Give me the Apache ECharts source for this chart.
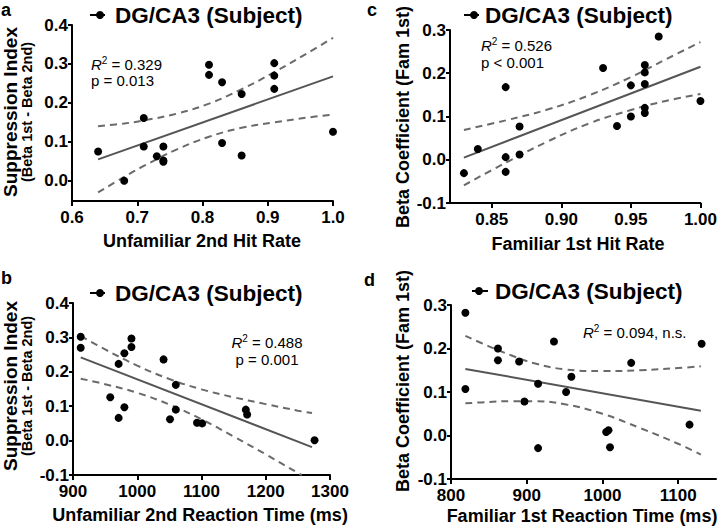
<!DOCTYPE html>
<html>
<head>
<meta charset="utf-8">
<script src="https://cdn.jsdelivr.net/npm/echarts@6/dist/echarts.min.js"></script>
<style>html,body{margin:0;padding:0;background:#fff}#c{width:720px;height:528px}</style>
</head>
<body>
<div id="c"></div>
<script>
// ---------- Panel a: Unfamiliar 2nd Hit Rate vs Suppression Index ----------
const aHit  = [0.64,0.68,0.71,0.71,0.73,0.74,0.74,0.74,0.81,0.81,0.83,0.83,0.86,0.86,0.91,0.91,0.91,1.00];
const aSupp = [0.075,0.000,0.161,0.088,0.063,0.088,0.052,0.049,0.298,0.272,0.253,0.097,0.223,0.065,0.302,0.270,0.236,0.126];
const aFitX = [0.64, 1.00];
const aFitY = [0.055, 0.268];
const aBandX = [0.64,0.68,0.71,0.76,0.81,0.86,0.91,0.96,1.00];
const aUpper = [0.140,0.147,0.155,0.172,0.198,0.235,0.279,0.327,0.367];
const aLower = [-0.030,0.010,0.038,0.080,0.113,0.136,0.150,0.162,0.170];
const aXTicks = [0.6,0.7,0.8,0.9,1.0];
const aYTicks = [0.0,0.1,0.2,0.3,0.4];

// ---------- Panel b: Unfamiliar 2nd Reaction Time vs Suppression Index ----------
const bRT   = [912,912,958,971,971,980,980,991,991,1041,1051,1060,1060,1093,1101,1169,1171,1276];
const bSupp = [0.302,0.270,0.126,0.223,0.066,0.254,0.097,0.297,0.272,0.236,0.062,0.162,0.090,0.052,0.050,0.090,0.076,0.001];
const bFitX = [912, 1272];
const bFitY = [0.242, -0.019];
const bUpperX = [912,950,1000,1050,1100,1150,1200,1250,1272];
const bUpper  = [0.304,0.265,0.218,0.179,0.149,0.126,0.106,0.087,0.080];
const bLowerX = [912,950,1000,1050,1100,1150,1200,1250,1256];
const bLower  = [0.180,0.164,0.139,0.105,0.062,0.012,-0.040,-0.094,-0.100];
const bXTicks = [900,1000,1100,1200,1300];
const bYTicks = [-0.1,0.0,0.1,0.2,0.3,0.4];

// ---------- Panel c: Familiar 1st Hit Rate vs Beta Coefficient ----------
const cHit  = [0.83,0.84,0.86,0.86,0.86,0.87,0.87,0.93,0.94,0.95,0.95,0.96,0.96,0.96,0.96,0.96,0.97,1.00];
const cBeta = [-0.031,0.025,0.168,0.006,-0.028,0.077,0.012,0.212,0.078,0.172,0.100,0.219,0.202,0.175,0.120,0.108,0.285,0.136];
const cFitX = [0.83, 1.00];
const cFitY = [0.005, 0.215];
const cBandX = [0.83,0.86,0.89,0.92,0.95,0.975,1.00];
const cUpper = [0.069,0.091,0.116,0.149,0.191,0.232,0.272];
const cLower = [-0.059,-0.007,0.042,0.084,0.115,0.136,0.152];
const cXTicks = [0.85,0.90,0.95,1.00];
const cYTicks = [-0.1,0.0,0.1,0.2,0.3];

// ---------- Panel d: Familiar 1st Reaction Time vs Beta Coefficient ----------
const dRT   = [819,819,862,862,890,897,915,915,936,952,959,1005,1008,1010,1038,1115,1131];
const dBeta = [0.282,0.107,0.200,0.173,0.170,0.078,0.119,-0.029,0.216,0.100,0.135,0.008,0.012,-0.027,0.167,0.025,0.211];
const dFitX = [819, 1130];
const dFitY = [0.153, 0.057];
const dBandX = [819,850,880,910,950,1000,1050,1100,1130];
const dUpper = [0.229,0.205,0.184,0.166,0.152,0.148,0.150,0.155,0.159];
const dLower = [0.074,0.077,0.079,0.079,0.072,0.050,0.017,-0.019,-0.044];
const dXTicks = [800,900,1000,1100];
const dYTicks = [-0.1,0.0,0.1,0.2,0.3];

const legendLabel = 'DG/CA3 (Subject)';
const FONT = 'Arial, "Liberation Sans", Helvetica, sans-serif';

const zip = (xs, ys) => xs.map((x, i) => [x, ys[i]]);

function xAxis(gi, min, max, ticks, dec) {
  return {
    type: 'value', gridIndex: gi, min: min, max: max,
    axisLine: { onZero: false, lineStyle: { color: '#000', width: 2 } },
    axisTick: { customValues: ticks, length: 5, lineStyle: { color: '#000', width: 2 } },
    axisLabel: { customValues: ticks, formatter: v => Number(v).toFixed(dec), color: '#000',
                 fontSize: 17, lineHeight: 14, fontWeight: 'bold', fontFamily: FONT, margin: 9 },
    splitLine: { show: false }
  };
}
function yAxis(gi, min, max, ticks) {
  return {
    type: 'value', gridIndex: gi, min: min, max: max,
    axisLine: { show: true, onZero: false, lineStyle: { color: '#000', width: 2 } },
    axisTick: { show: true, customValues: ticks, length: 4, lineStyle: { color: '#000', width: 2 } },
    axisLabel: { customValues: ticks, formatter: v => Number(v).toFixed(1), color: '#000',
                 fontSize: 17, lineHeight: 13, fontWeight: 'bold', fontFamily: FONT, margin: 4 },
    splitLine: { show: false }
  };
}
function panelSeries(gi, px, py, fx, fy, ux, uy, lx, ly) {
  const dash = { color: '#6a6a6a', width: 2, type: [7, 5] };
  return [
    { type: 'line', xAxisIndex: gi, yAxisIndex: gi, data: zip(ux, uy), smooth: 0.4, showSymbol: false,
      lineStyle: dash, z: 2, silent: true },
    { type: 'line', xAxisIndex: gi, yAxisIndex: gi, data: zip(lx, ly), smooth: 0.4, showSymbol: false,
      lineStyle: dash, z: 2, silent: true },
    { type: 'line', xAxisIndex: gi, yAxisIndex: gi, data: zip(fx, fy), showSymbol: false,
      lineStyle: { color: '#555', width: 2 }, z: 3, silent: true },
    { type: 'scatter', name: legendLabel, xAxisIndex: gi, yAxisIndex: gi, data: zip(px, py),
      symbolSize: 8, itemStyle: { color: '#000', opacity: 1 }, z: 5 }
  ];
}

function txt(x, y, text, size, opts) {
  opts = opts || {};
  return {
    type: 'text', x: x, y: y, rotation: opts.rotation || 0, z: 10,
    style: Object.assign({
      text: text, fill: '#000', fontSize: size, fontWeight: opts.weight || 'bold', fontFamily: FONT,
      align: opts.align || 'center', verticalAlign: 'middle',
      textAlign: opts.align || 'center', textVerticalAlign: 'middle'
    }, opts.rich ? { rich: opts.rich } : {})
  };
}
function legend(lx1, lx2, dotx, y, tx) {
  return [
    { type: 'line', shape: { x1: lx1, y1: y, x2: lx2, y2: y }, style: { stroke: '#000', lineWidth: 2 }, z: 10 },
    { type: 'circle', shape: { cx: dotx, cy: y, r: 4 }, style: { fill: '#000' }, z: 10 },
    txt(tx, y, legendLabel, 22.5, { align: 'left' })
  ];
}
const statRich = {
  r: { fontStyle: 'italic', fontSize: 15, fontFamily: FONT, lineHeight: 17 },
  s: { fontSize: 10, fontFamily: FONT, verticalAlign: 'top', lineHeight: 17 },
  t: { fontSize: 15, fontFamily: FONT, lineHeight: 17 }
};
function stat(x, y, text, align) {
  return txt(x, y, text, 15, { weight: 'normal', align: align, rich: statRich });
}
const ySupRich = {
  a: { fontSize: 19, fontWeight: 'bold', fontFamily: FONT, lineHeight: 19 },
  b: { fontSize: 14.5, fontWeight: 'bold', fontFamily: FONT, lineHeight: 15 }
};

const chart = echarts.init(document.getElementById('c'), null, { renderer: 'svg', width: 720, height: 528 });
chart.setOption({
  animation: false,
  backgroundColor: '#fff',
  grid: [
    { left: 72,  top: 25,  width: 261, height: 176 },
    { left: 73,  top: 303, width: 257, height: 172 },
    { left: 450, top: 30,  width: 255, height: 173 },
    { left: 451, top: 305, width: 265, height: 174 }
  ],
  xAxis: [
    xAxis(0, 0.6, 1.0, aXTicks, 1),
    xAxis(1, 900, 1300, bXTicks, 0),
    xAxis(2, 0.82, 1.0, cXTicks, 2),
    xAxis(3, 800, 1150, dXTicks, 0)
  ],
  yAxis: [
    yAxis(0, -0.052, 0.4, aYTicks),
    yAxis(1, -0.1, 0.4, bYTicks),
    yAxis(2, -0.1, 0.3, cYTicks),
    yAxis(3, -0.1, 0.3, dYTicks)
  ],
  series: [].concat(
    panelSeries(0, aHit, aSupp, aFitX, aFitY, aBandX, aUpper, aBandX, aLower),
    panelSeries(1, bRT, bSupp, bFitX, bFitY, bUpperX, bUpper, bLowerX, bLower),
    panelSeries(2, cHit, cBeta, cFitX, cFitY, cBandX, cUpper, cBandX, cLower),
    panelSeries(3, dRT, dBeta, dFitX, dFitY, dBandX, dUpper, dBandX, dLower)
  ),
  graphic: { elements: [].concat(
    // panel letters
    txt(1, 10, 'a', 18, { align: 'left' }),
    txt(1, 278, 'b', 18, { align: 'left' }),
    txt(367, 10, 'c', 18, { align: 'left' }),
    txt(364, 280, 'd', 18, { align: 'left' }),
    // legends
    legend(90, 105, 100, 15, 115),
    legend(90, 105, 100, 293, 115),
    legend(464, 479, 474, 15, 485),
    legend(472, 488, 479, 291, 495),
    // stats
    stat(91, 64, '{r|R}{s|2}{t| = 0.329}', 'left'),
    stat(91, 80, '{t|p = 0.013}', 'left'),
    stat(267, 342, '{r|R}{s|2}{t| = 0.488}', 'center'),
    stat(267, 359, '{t|p = 0.001}', 'center'),
    stat(481, 45, '{r|R}{s|2}{t| = 0.526}', 'left'),
    stat(481, 62, '{t|p < 0.001}', 'left'),
    stat(583, 332, '{r|R}{s|2}{t| = 0.094, n.s.}', 'left'),
    // x-axis titles
    txt(202, 241, 'Unfamiliar 2nd Hit Rate', 18),
    txt(200, 515, 'Unfamiliar 2nd Reaction Time (ms)', 18),
    txt(578, 244, 'Familiar 1st Hit Rate', 18),
    txt(582, 516, 'Familiar 1st Reaction Time (ms)', 18),
    // y-axis titles
    txt(17.5, 112, '{a|Suppression Index}\n{b|(Beta 1st - Beta 2nd)}', 19, { rotation: Math.PI / 2, rich: ySupRich }),
    txt(17.5, 386, '{a|Suppression Index}\n{b|(Beta 1st - Beta 2nd)}', 19, { rotation: Math.PI / 2, rich: ySupRich }),
    txt(403, 117, 'Beta Coefficient (Fam 1st)', 18, { rotation: Math.PI / 2 }),
    txt(403, 381, 'Beta Coefficient (Fam 1st)', 18, { rotation: Math.PI / 2 })
  ) }
});
</script>
</body>
</html>
